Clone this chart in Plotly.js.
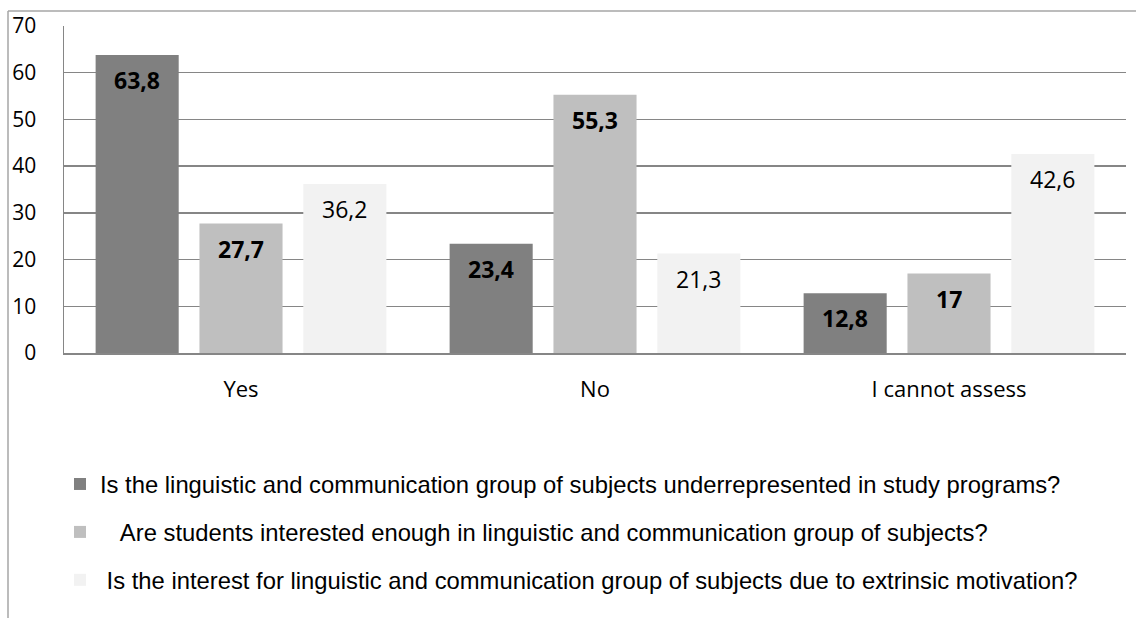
<!DOCTYPE html>
<html>
<head>
<meta charset="utf-8">
<script src="https://cdn.plot.ly/plotly-3.0.1.min.js"></script>
<style>html,body{margin:0;padding:0;background:#fff;}#chart{width:1136px;height:618px;}</style>
</head>
<body>
<div id="chart"></div>
<script>
const categories = ["Yes", "No", "I cannot assess"];
const seriesNames = [
  "Is the linguistic and communication group of subjects underrepresented in study programs?",
  "\u00a0\u00a0\u00a0Are students interested enough in linguistic and communication group of subjects?",
  "\u00a0Is the interest for linguistic and communication group of subjects due to extrinsic motivation?"
];
const underrepresented = [63.8, 23.4, 12.8];
const interested = [27.7, 55.3, 17];
const extrinsic = [36.2, 21.3, 42.6];
const yTicks = [0, 10, 20, 30, 40, 50, 60, 70];

const seriesValues = [underrepresented, interested, extrinsic];
const colors = ["#808080", "#bfbfbf", "#f2f2f2"];
const boldLabel = [true, true, false];
const W = 1136, H = 618;
const M = {l: 64, r: 10, t: 26, b: 265, autoexpand: false};
const pw = W - M.l - M.r, ph = H - M.t - M.b;

const fmt = v => String(v).replace('.', ',');

const traces = seriesValues.map((vals, i) => ({
  type: 'bar',
  name: seriesNames[i],
  x: categories,
  y: vals,
  marker: {color: colors[i], line: {width: 0}},
  legendgroup: 'g' + i,
  hoverinfo: 'none'
}));

const slot = pw / categories.length * (1 - 0.12) / 3;
const annotations = [];
seriesValues.forEach((vals, i) => {
  vals.forEach((v, j) => {
    const t = fmt(v);
    annotations.push({
      x: categories[j], y: v, xref: 'x', yref: 'y',
      text: boldLabel[i] ? '<b>' + t + '</b>' : t,
      showarrow: false,
      xshift: (i - 1) * slot,
      yshift: -25,
      yanchor: 'middle',
      font: {family: 'Open Sans, sans-serif', size: 23, color: '#000'}
    });
  });
});

const lineColor = '#a6a6a6';
const shapes = [
  {type: 'line', xref: 'paper', yref: 'paper',
   x0: (8 - M.l) / pw, x1: (W - M.l) / pw,
   y0: 1 + (M.t - 11) / ph, y1: 1 + (M.t - 11) / ph,
   line: {color: lineColor, width: 1.5}},
  {type: 'line', xref: 'paper', yref: 'paper',
   x0: (8 - M.l) / pw, x1: (8 - M.l) / pw,
   y0: 1 + (M.t - 11) / ph, y1: -(M.b) / ph,
   line: {color: lineColor, width: 1.5}}
];

const layout = {
  width: W, height: H,
  margin: M,
  paper_bgcolor: '#fff', plot_bgcolor: '#fff',
  barmode: 'group', bargap: 0.12, bargroupgap: 0.2,
  showlegend: true,
  legend: {
    orientation: 'v', xref: 'container', yref: 'container',
    x: 60 / W, xanchor: 'left', y: 1 - 462 / H, yanchor: 'top',
    font: {family: 'Liberation Sans, Arial, sans-serif', size: 23.8, color: '#000'},
    tracegroupgap: 14, traceorder: 'grouped', bgcolor: 'rgba(0,0,0,0)'
  },
  xaxis: {
    type: 'category', showgrid: false, showline: true, linecolor: '#868686', linewidth: 1.5,
    ticks: '', ticklabelstandoff: 16, tickangle: 0,
    tickfont: {family: 'Open Sans, sans-serif', size: 22, color: '#000'},
    fixedrange: true
  },
  yaxis: {
    range: [0, 70], tickvals: yTicks, ticktext: yTicks.map(String),
    showgrid: true, gridcolor: '#868686', gridwidth: 1.5,
    showline: true, linecolor: '#868686', linewidth: 1.5,
    zeroline: false, ticks: '', ticklabelstandoff: 22,
    tickfont: {family: 'Open Sans, sans-serif', size: 21, color: '#000'},
    fixedrange: true
  },
  annotations: annotations,
  shapes: shapes
};

Plotly.newPlot('chart', traces, layout, {displayModeBar: false, staticPlot: true});
</script>
</body>
</html>
